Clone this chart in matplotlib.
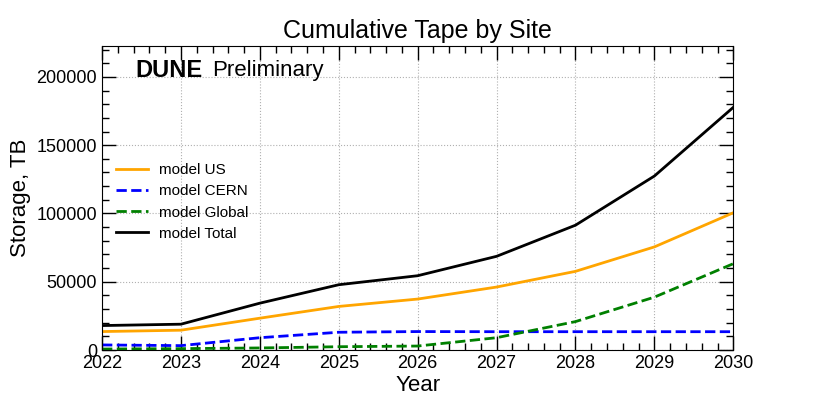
import matplotlib
matplotlib.use("Agg")
import matplotlib.pyplot as plt
from matplotlib.ticker import MultipleLocator, AutoMinorLocator

plt.rcParams['font.family'] = ['Liberation Sans', 'DejaVu Sans']

years = [2022, 2023, 2024, 2025, 2026, 2027, 2028, 2029, 2030]
model_us = [13500, 14500, 23300, 31900, 37300, 46100, 57600, 75500, 100500]
model_cern = [3700, 3200, 9000, 13000, 13500, 13400, 13400, 13400, 13400]
model_global = [700, 1000, 1500, 2400, 2900, 9000, 20800, 38700, 63200]
model_total = [17900, 18900, 34300, 47800, 54400, 68600, 91400, 127400, 177700]

fig = plt.figure(figsize=(8.23, 3.98), dpi=100)
ax = fig.add_axes([0.124, 0.1206, 0.767, 0.7634])

ax.plot(years, model_us, color='orange', lw=2, ls='-', label='model US')
ax.plot(years, model_cern, color='blue', lw=2, ls='--', label='model CERN')
ax.plot(years, model_global, color='green', lw=2, ls='--', label='model Global')
ax.plot(years, model_total, color='black', lw=2, ls='-', label='model Total')

ax.set_xlim(2022, 2030)
ax.set_ylim(0, 222500)
ax.xaxis.set_major_locator(MultipleLocator(1))
ax.xaxis.set_minor_locator(AutoMinorLocator(5))
ax.yaxis.set_major_locator(MultipleLocator(50000))
ax.yaxis.set_minor_locator(AutoMinorLocator(5))
ax.tick_params(which='both', direction='in', top=True, right=True, labelsize=13)
ax.tick_params(which='major', length=10, width=1)
ax.tick_params(which='minor', length=5, width=1)
ax.grid(True, which='major', color='#b0b0b0', ls=':', lw=0.8)

ax.set_title('Cumulative Tape by Site', fontsize=18)
ax.set_xlabel('Year', fontsize=16, labelpad=2)
ax.set_ylabel('Storage, TB', fontsize=16)

ax.legend(loc='center left', bbox_to_anchor=(0.0, 0.487), frameon=False, fontsize=11,
          handlelength=2.1, handletextpad=0.72, labelspacing=0.47)

ax.text(0.052, 0.921, 'DUNE', transform=ax.transAxes, fontsize=17, fontweight='bold', va='center', ha='left')
ax.text(0.174, 0.921, 'Preliminary', transform=ax.transAxes, fontsize=16, va='center', ha='left')

fig.savefig('out.png', dpi=100)
